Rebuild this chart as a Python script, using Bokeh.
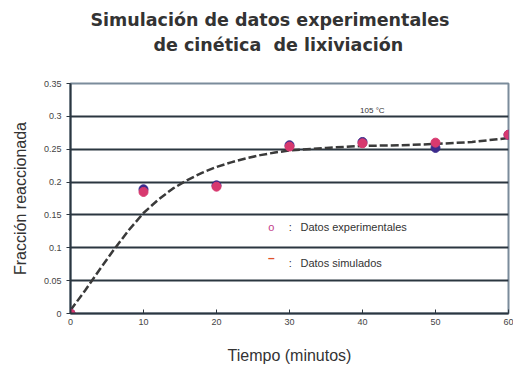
from bokeh.plotting import figure
from bokeh.models import Label, FixedTicker, CustomJSTickFormatter, Range1d, Title
from bokeh.embed import file_html
from bokeh.resources import INLINE

# experimental data (two overlapping series)
t_exp = [0, 10, 20, 30, 40, 50, 60]
exp_a = [0.0, 0.189, 0.195, 0.256, 0.261, 0.252, 0.272]
exp_b = [0.0, 0.185, 0.193, 0.254, 0.259, 0.260, 0.272]

# simulated curve
t_sim = [0, 2, 4, 6, 8, 10, 12, 14, 16, 18, 20, 22, 24, 26, 28, 30, 35, 40, 45, 50, 55, 60]
x_sim = [0.005, 0.035, 0.067, 0.098, 0.127, 0.153, 0.173, 0.19, 0.203, 0.214, 0.223,
         0.23, 0.236, 0.241, 0.245, 0.248, 0.252, 0.255, 0.256, 0.258, 0.261, 0.267]

y_ticks = [0, 0.05, 0.1, 0.15, 0.2, 0.25, 0.3, 0.35]
grid_ticks = [0.05, 0.1, 0.15, 0.2, 0.25, 0.3]
x_ticks = [0, 10, 20, 30, 40, 50, 60]

title1 = "Simulación de datos experimentales"
title2 = "de cinética \u00a0de lixiviación"

p = figure(width=513, height=366, output_backend="svg", toolbar_location=None,
           x_range=Range1d(0, 60), y_range=Range1d(0, 0.35),
           min_border_left=70, min_border_right=5, min_border_top=83, min_border_bottom=53)
p.background_fill_color = "white"
p.border_fill_color = "white"
p.outline_line_color = "#7b8c9b"
p.outline_line_width = 2

# blank spacer panel between the frame and the title lines
p.add_layout(Title(text=" ", standoff=24, text_font_size="1px", text_color="white"), "above")
p.add_layout(Title(text=title2, align="left", offset=83, standoff=3.5,
                   text_font="DejaVu Sans", text_font_size="17.5px", text_font_style="bold",
                   text_color="#333333"), "above")
p.add_layout(Title(text=title1, align="left", offset=20, standoff=1.5,
                   text_font="DejaVu Sans", text_font_size="17.5px", text_font_style="bold",
                   text_color="#333333"), "above")

p.xgrid.visible = False
p.ygrid.ticker = FixedTicker(ticks=grid_ticks)
p.ygrid.grid_line_color = "#2b3640"
p.ygrid.grid_line_width = 2

fmt = CustomJSTickFormatter(code="return String(Math.round(tick*100)/100)")
p.yaxis.ticker = FixedTicker(ticks=y_ticks)
p.yaxis.formatter = fmt
p.xaxis.ticker = FixedTicker(ticks=x_ticks)
for ax in (p.xaxis, p.yaxis):
    ax.axis_line_color = "#2b3640"
    ax.axis_line_width = 2
    ax.major_tick_line_color = "#2b3640"
    ax.major_tick_line_width = 1
    ax.minor_tick_line_color = None
    ax.major_label_text_font = "Liberation Sans"
    ax.major_label_text_font_size = "9px"
    ax.major_label_text_color = "#444444"
    ax.axis_label_text_font = "Liberation Sans"
    ax.axis_label_text_font_size = "16px"
    ax.axis_label_text_font_style = "normal"
    ax.axis_label_text_color = "#333333"
p.xaxis.major_tick_in = 4
p.xaxis.major_tick_out = 0
p.yaxis.major_tick_in = 0
p.yaxis.major_tick_out = 4
p.xaxis.axis_label = "Tiempo (minutos)"
p.yaxis.axis_label = "Fracción reaccionada"
p.xaxis.axis_label_standoff = 19
p.yaxis.axis_label_standoff = 12

p.line(t_sim, x_sim, line_color="#3a3a3a", line_width=2.5, line_dash="8 3")
p.scatter(t_exp, exp_a, size=9, color="#3b2a8c")
p.scatter(t_exp, exp_b, size=9, color="#d8396f")

def lab(x, y, text, size, color="#333333", style="normal", align="left", font="Liberation Sans"):
    p.add_layout(Label(x=x, y=y, text=text, text_font_size=size, text_color=color,
                       text_font_style=style, text_align=align, text_baseline="middle",
                       text_font=font))

lab(41.5, 0.309, "105  °C", "8px", align="center")
lab(27.5, 0.131, "o", "11px", color="#c2408a", align="center")
lab(30.1, 0.131, ":", "11px", align="center")
lab(31.5, 0.131, "Datos experimentales", "11px")
lab(27.5, 0.0837, "–", "12px", color="#e0522a", style="bold", align="center")
lab(30.1, 0.0776, ":", "11px", align="center")
lab(31.5, 0.0776, "Datos simulados", "11px")

open("out.html", "w").write(file_html(p, INLINE))
